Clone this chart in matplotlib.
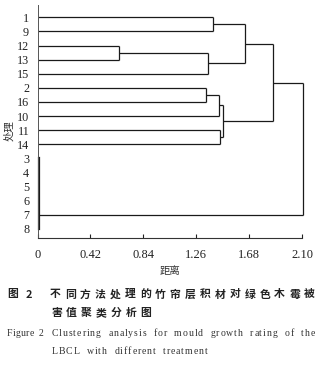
import matplotlib
matplotlib.use("Agg")
import matplotlib.pyplot as plt
from matplotlib.font_manager import FontProperties, findfont
from matplotlib import ft2font

# ---------------- data ----------------
leaf_order = ['1', '9', '12', '13', '15', '2', '16', '10', '11', '14',
              '3', '4', '5', '6', '7', '8']
# merges: (child a, child b, distance, new node name)
merges = [
    ('1', '9', 1.39, 'A'),
    ('12', '13', 0.65, 'B'),
    ('B', '15', 1.35, 'C'),
    ('A', 'C', 1.65, 'D'),
    ('2', '16', 1.34, 'E'),
    ('E', '10', 1.44, 'F'),
    ('11', '14', 1.45, 'G'),
    ('F', 'G', 1.47, 'H'),
    ('D', 'H', 1.87, 'I'),
]
zero_cluster = ['3', '4', '5', '6', '7', '8']
zero_height = 0.012
zero_anchor = '7'
root_merge = ('I', 'Z', 2.108)
xticks = [0, 0.42, 0.84, 1.26, 1.68, 2.10]
xtick_labels = ['0', '0.42', '0.84', '1.26', '1.68', '2.10']
xlabel = '距离'
ylabel = '处理'
cap_cn_1a = '图 2'
cap_cn_1b = '不同方法处理的竹帘层积材对绿色木霉被'
cap_cn_2 = '害值聚类分析图'
cap_en_1a = 'Figure 2'
cap_en_1b = 'Clustering analysis for mould growth rating of the'
cap_en_2 = 'LBCL with different treatment'

# ---------------- figure ----------------
W, H = 323, 369
DPI = 100
fig = plt.figure(figsize=(W / DPI, H / DPI), dpi=DPI)
ax = fig.add_axes([37.5 / W, 1 - 238.3 / H, (302 - 37.5) / W, (238.3 - 5) / H])

line_kw = dict(color='#1a1a1a', lw=0.9, solid_capstyle='butt', clip_on=False)

pos = {lab: i for i, lab in enumerate(leaf_order)}
hgt = {lab: 0.0 for lab in leaf_order}

def link(a, b, h, name):
    ya, yb = pos[a], pos[b]
    ax.plot([hgt[a], h], [ya, ya], **line_kw)
    ax.plot([hgt[b], h], [yb, yb], **line_kw)
    ax.plot([h, h], [ya, yb], **line_kw)
    pos[name] = (ya + yb) / 2
    hgt[name] = h

for a, b, h, name in merges:
    link(a, b, h, name)

# zero-distance cluster
zy = [pos[l] for l in zero_cluster]
ax.plot([zero_height, zero_height], [min(zy), max(zy)], color='#1a1a1a', lw=1.6, clip_on=False)
pos['Z'] = pos[zero_anchor]
hgt['Z'] = zero_height

link(root_merge[0], root_merge[1], root_merge[2], 'ROOT')

ax.set_xlim(0, 2.10)
ax.set_ylim(15.66, -0.87)
for s in ['top', 'right']:
    ax.spines[s].set_visible(False)
ax.spines['left'].set_color('#555555')
ax.spines['left'].set_linewidth(0.7)
ax.spines['bottom'].set_color('#333333')
ax.spines['bottom'].set_linewidth(0.8)

serif = 'Liberation Serif'
ax.set_xticks(xticks)
ax.set_xticklabels(xtick_labels, fontfamily=serif, fontsize=9)
ax.tick_params(axis='x', direction='in', length=3, width=0.8, pad=8, colors='#222222')
ax.set_yticks(range(len(leaf_order)))
ax.set_yticklabels(leaf_order, fontfamily=serif, fontsize=8.7)
ax.tick_params(axis='y', length=0, pad=6, colors='#222222')

fig.text(170 / W, 1 - 271 / H, xlabel, ha='center', va='center',
         fontfamily=['Noto Sans CJK SC'], fontsize=7.5, color='#333333', fontweight='light')
fig.text(9 / W, 1 - 131 / H, ylabel, ha='center', va='center', rotation=90,
         fontfamily=['Noto Sans CJK SC'], fontsize=7.5, color='#333333', fontweight='light')

def advances(text, prop):
    f = ft2font.FT2Font(findfont(prop))
    f.set_size(prop.get_size_in_points(), DPI)
    out = []
    for c in text:
        g = f.load_char(ord(c))
        out.append(g.linearHoriAdvance / 65536.0)
    return out

def place(text, x0, x1, y, prop, color, tracking=None, word_extra=None, letter_track=None):
    """Place characters one by one. If letter_track is given, the remaining
    space (to reach x1) is put into word gaps; otherwise uniform tracking."""
    widths = advances(text, prop)
    natural = sum(widths)
    n_gaps = max(len(text) - 1, 1)
    n_sp = text.count(' ')
    if letter_track is not None:
        tracking = letter_track
        if word_extra is None:
            word_extra = (x1 - x0 - natural - tracking * n_gaps) / max(n_sp, 1)
    elif tracking is None:
        tracking = (x1 - x0 - natural) / n_gaps
    if word_extra is None:
        word_extra = 0.0
    x = x0
    for c, w in zip(text, widths):
        if c != ' ':
            fig.text(x / W, 1 - y / H, c, fontproperties=prop, color=color,
                     ha='left', va='center')
        x += w + tracking + (word_extra if c == ' ' else 0)
    return tracking, word_extra

cn_prop = FontProperties(family='Noto Sans CJK SC', weight='bold', size=7.8)
place(cap_cn_1a, 7, 32, 294.5, cn_prop, '#222222')
tr, _ = place(cap_cn_1b, 50, 315, 294.5, cn_prop, '#222222')
place(cap_cn_2, 51, None, 313, cn_prop, '#222222', tracking=tr)

en_prop = FontProperties(family=serif, size=7.0)
place(cap_en_1a, 7, None, 333, en_prop, '#333333', letter_track=0.3, word_extra=1.8)
tr2, we2 = place(cap_en_1b, 51.7, 315, 333, en_prop, '#333333', letter_track=0.95)
place(cap_en_2, 51.7, None, 351, en_prop, '#333333', tracking=tr2, word_extra=we2)

fig.savefig('out.png', dpi=DPI)
